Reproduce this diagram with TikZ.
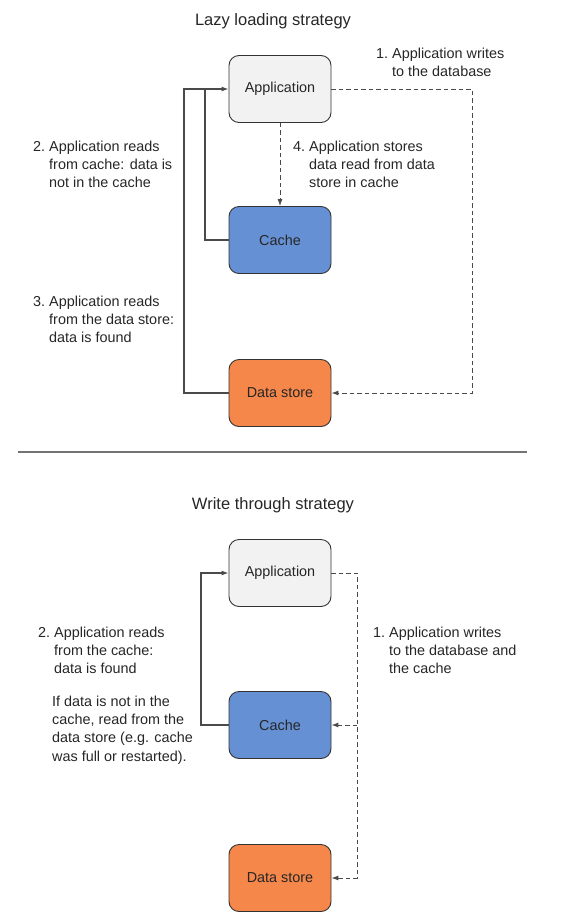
\documentclass[tikz,border=0pt]{standalone}
\usepackage{fontspec}
\setmainfont{Liberation Sans}
\usetikzlibrary{arrows.meta}

\definecolor{appfill}{HTML}{F2F2F2}
\definecolor{cachefill}{HTML}{6591D4}
\definecolor{datafill}{HTML}{F5874A}
\definecolor{edge}{HTML}{333333}
\definecolor{wire}{HTML}{4A4A4A}

\newcommand{\steptext}[2]
{
  \begin{tabular}[t]{@{}l@{}l@{}}
    #1 & #2
  \end{tabular}
}

\tikzset{
  store/.style={draw=edge, line width=0.9pt, fill=#1, rounded corners=10pt,
    minimum width=102pt, minimum height=67pt, text=black!85},
  note/.style={anchor=base west, inner sep=0pt, text=black!85},
  heading/.style={anchor=base, inner sep=0pt, text=black!85,
    font=\fontsize{16.5}{20}\selectfont},
  flow/.style={draw=wire, line width=1.1pt, -{Latex[length=7pt,width=5pt]}},
  write/.style={flow, line width=0.95pt, dash pattern=on 4.5pt off 3pt},
  rule/.style={draw=wire, line width=1.1pt}
}

\begin{document}
\begin{tikzpicture}[x=1pt, y=-1pt, font=\fontsize{14.4}{18.4}\selectfont]
  \useasboundingbox (0,0) rectangle (588,919);

  % lazy loading
  \node[heading] (title1) at (273,25) {Lazy loading strategy};

  \node[store=appfill]   (app1)   at (280,89)  {Application};
  \node[store=cachefill] (cache1) at (280,240) {Cache};
  \node[store=datafill]  (data1)  at (280,393) {Data store};

  \node[note] (write1) at (376,58)
    {\steptext{1.\ }{Application writes \\ & to the database}};
  \node[note] (miss1) at (33,151)
    {\steptext{2.\ }{Application reads \\ & from cache: data is \\ & not in the cache}};
  \node[note] (fill1) at (293,151)
    {\steptext{4.\ }{Application stores \\ & data read from data \\ & store in cache}};
  \node[note] (found1) at (33,306)
    {\steptext{3.\ }{Application reads \\ & from the data store: \\ & data is found}};

  \coordinate (outer1) at (184,89);
  \coordinate (inner1) at (205,89);
  \coordinate (right1) at (472,393);

  \draw[flow] (data1.west) -| (outer1) -- (app1.west);
  \draw[rule] (cache1.west) -| (inner1);
  \draw[write] (app1.south) -- (cache1.north);
  \draw[write] (app1.east) -| (right1) -- (data1.east);

  % separator
  \coordinate (sepL) at (18,452);
  \coordinate (sepR) at (527,452);
  \draw[rule, draw=black!55] (sepL) -- (sepR);

  % write through
  \node[heading] (title2) at (273,509) {Write through strategy};

  \node[store=appfill]   (app2)   at (280,573) {Application};
  \node[store=cachefill] (cache2) at (280,725) {Cache};
  \node[store=datafill]  (data2)  at (280,878) {Data store};

  \node[note] (write2) at (373,637)
    {\steptext{1.\ }{Application writes \\ & to the database and \\ & the cache}};
  \node[note] (hit2) at (38,637)
    {\steptext{2.\ }{Application reads \\ & from the cache: \\ & data is found}};
  \node[note] (miss2) at (52,706)
    {\begin{tabular}[t]{@{}l@{}}
      If data is not in the \\
      cache, read from the \\
      data store (e.g. cache \\
      was full or restarted).
    \end{tabular}};

  \coordinate (left2)  at (201,725);
  \coordinate (tap2)   at (357,725);
  \coordinate (right2) at (357,878);

  \draw[flow] (cache2.west) -- (left2) |- (app2.west);
  \draw[write] (app2.east) -| (right2) -- (data2.east);
  \draw[write] (tap2) -- (cache2.east);

\end{tikzpicture}
\end{document}
